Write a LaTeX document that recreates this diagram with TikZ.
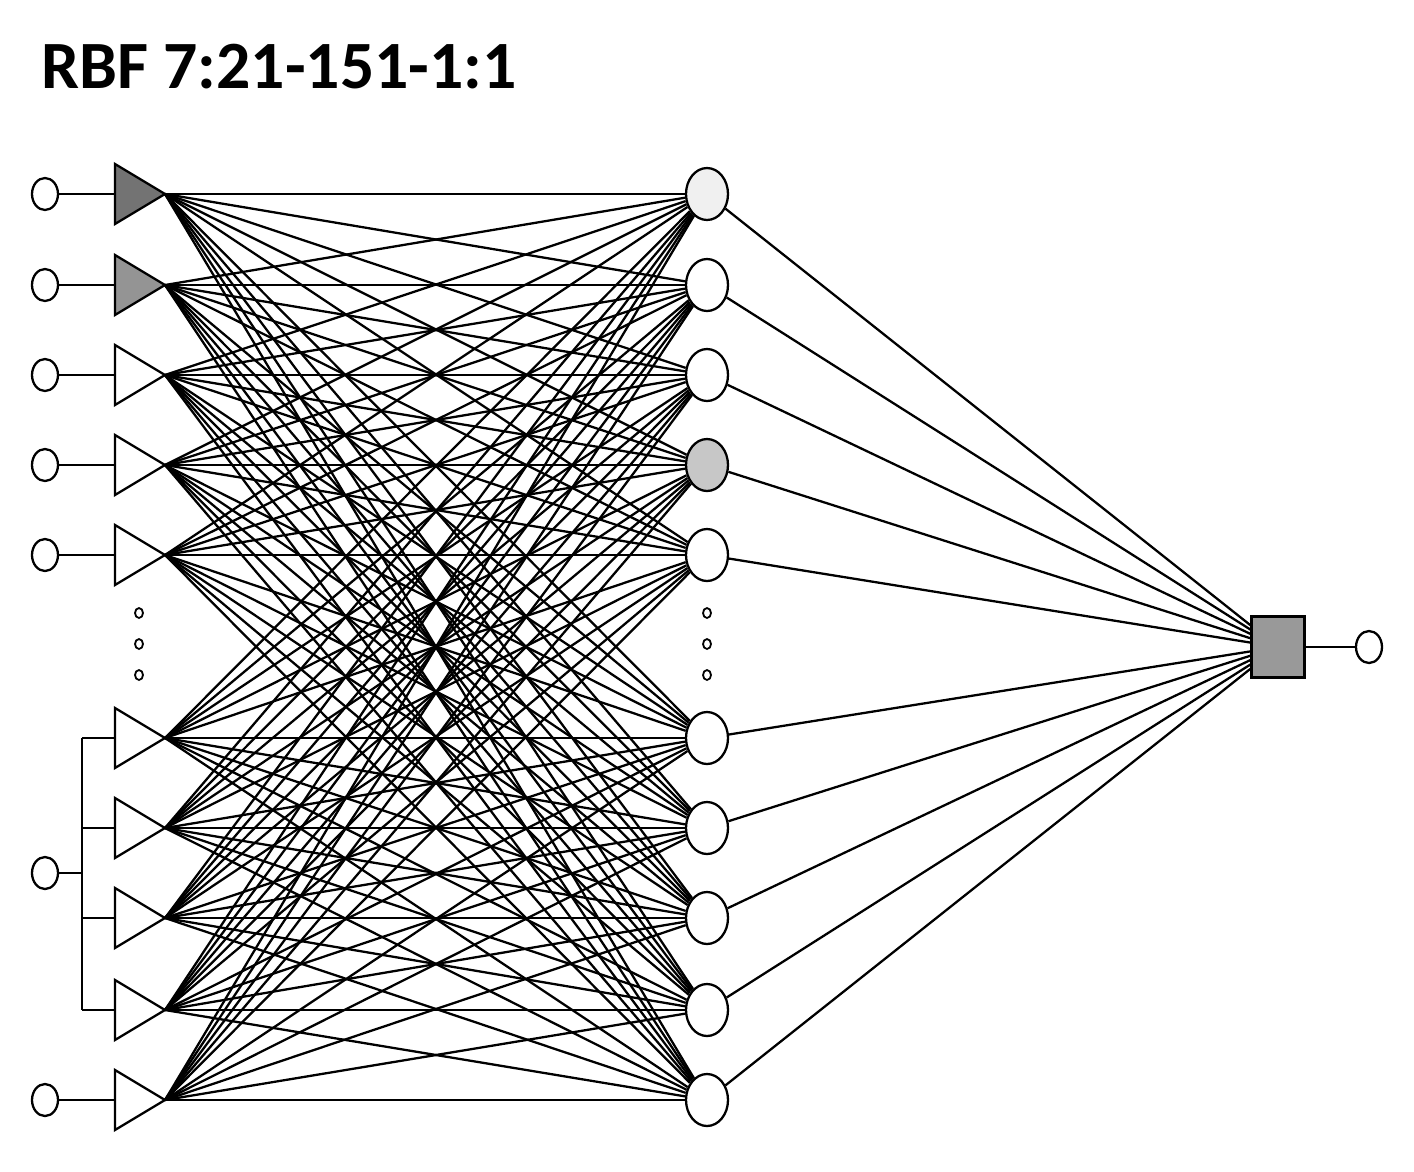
\documentclass[tikz,border=0pt]{standalone}
\usepackage{fontspec}
\setmainfont{Carlito}
\usetikzlibrary{shapes.geometric}
\tikzset{
  inp/.style={draw,ellipse,minimum width=0.52cm,minimum height=0.64cm,inner sep=0pt},
  hid/.style={draw,ellipse,minimum width=0.84cm,minimum height=1.04cm,inner sep=0pt},
  outbox/.style={draw,fill=black!40,minimum width=1.06cm,minimum height=1.22cm,inner sep=0pt},
  link/.style={line width=1.3pt},
}
\begin{document}
\begin{tikzpicture}[x=0.02cm,y=-0.02cm,line width=1.3pt]
  \useasboundingbox (0,0) rectangle (1414,1171);
  \node[anchor=base west,inner sep=0pt,font=\fontsize{38.5}{46}\selectfont\bfseries] (title) at (40,88) {RBF 7:21-151-1:1};
  %\draw[gray!50] (0,0) grid[step=100] (1414,1171);
  \foreach \i/\y/\f in {1/194/black!6,2/285/white,3/375/white,4/465/black!22,5/555/white,
                        6/738/white,7/828/white,8/918/white,9/1010/white,10/1100/white}{
    \coordinate (b\i) at (115,\y);
    \coordinate (t\i) at (165,\y);
    \node[hid,fill=\f] (h\i) at (707,\y) {};
  }
  \foreach \i/\f in {1/black!55,2/black!42,3/white,4/white,5/white,6/white,7/white,8/white,9/white,10/white}
    \draw[fill=\f] (b\i) ++(0,-30) -- (t\i) -- ++(-50,30) -- cycle;
  \foreach \i in {1,...,10}
    \foreach \j in {1,...,10}
      \draw[link] (t\i) -- (h\j);
  \node[outbox] (out) at (1278,647) {};
  \node[inp] (y) at (1369,647) {};
  \foreach \j in {1,...,10}
    \draw[link] (h\j) -- (out);
  \draw (out) -- (y);
  \foreach \i/\y in {1/194,2/285,3/375,4/465,5/555}{
    \node[inp] (x\i) at (45,\y) {};
    \draw (x\i) -- (b\i);
  }
  \node[inp] (x6) at (45,873) {};
  \node[inp] (x7) at (45,1100) {};
  \draw (x7) -- (b10);
  \coordinate (s) at (82,873);
  \draw (x6) -- (s);
  \draw (b6 -| s) -- (b9 -| s);
  \foreach \i in {6,...,9}
    \draw (b\i -| s) -- (b\i);
  \foreach \y in {613,644,675}{
    \draw[line width=1pt] (139,\y) ellipse (0.08cm and 0.1cm);
    \draw[line width=1pt] (707,\y) ellipse (0.08cm and 0.1cm);
  }
\end{tikzpicture}
\end{document}
